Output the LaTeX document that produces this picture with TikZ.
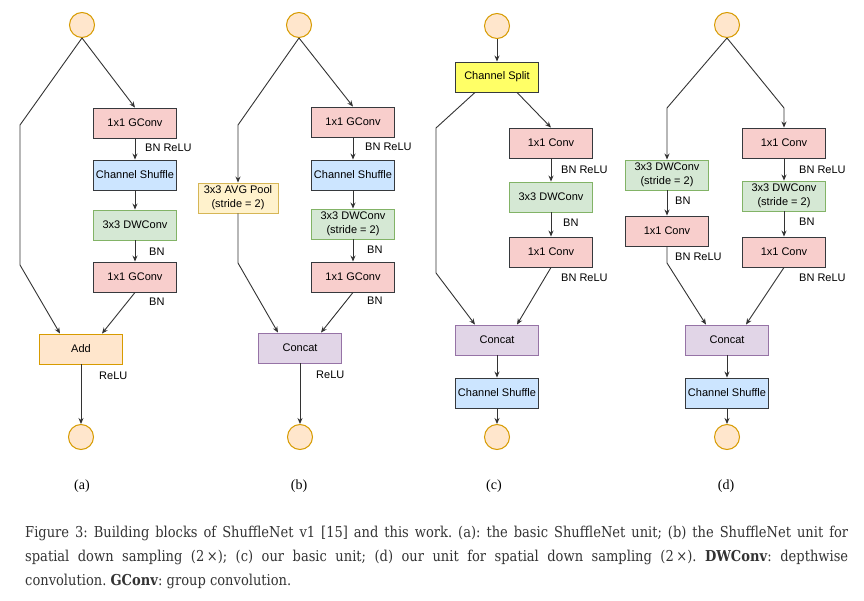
\documentclass[tikz,border=0pt]{standalone}
\usepackage{fontspec}
\usepackage{xcolor}
\usetikzlibrary{positioning,arrows.meta}
\newfontfamily\diafont{Liberation Sans}
\newfontfamily\capfont[FakeStretch=0.87]{DejaVu Serif}
\newfontfamily\tagfont{Liberation Serif}
\frenchspacing
\definecolor{iofill}{HTML}{FFE6CC}
\definecolor{iodraw}{HTML}{D79B00}
\definecolor{convfill}{HTML}{F8CECC}
\definecolor{shuffill}{HTML}{CCE5FF}
\definecolor{dwfill}{HTML}{D5E8D4}
\definecolor{dwdraw}{HTML}{82B366}
\definecolor{poolfill}{HTML}{FFF2CC}
\definecolor{pooldraw}{HTML}{D6B656}
\definecolor{catfill}{HTML}{E1D5E7}
\definecolor{catdraw}{HTML}{9673A6}
\definecolor{splitfill}{HTML}{FFFF66}
\definecolor{edgeclr}{HTML}{36393D}
\definecolor{lineclr}{HTML}{333333}
\definecolor{capclr}{HTML}{333333}
\tikzset{
  io/.style={circle,draw=iodraw,fill=iofill,line width=1pt,
             minimum size=25pt,inner sep=0pt},
  blk/.style={rectangle,draw=edgeclr,line width=0.9pt,
              minimum width=83pt,minimum height=30pt,inner sep=1pt,
              align=center,font=\diafont\fontsize{11}{14}\selectfont},
  conv/.style={blk,fill=convfill},
  shuf/.style={blk,fill=shuffill},
  dwc/.style={blk,fill=dwfill,draw=dwdraw},
  addb/.style={blk,fill=iofill,draw=iodraw},
  pool/.style={blk,fill=poolfill,draw=pooldraw,minimum width=80pt},
  cat/.style={blk,fill=catfill,draw=catdraw},
  split/.style={blk,fill=splitfill},
  note/.style={anchor=west,inner sep=0pt,font=\diafont\fontsize{11}{14}\selectfont},
  edge/.style={-{Stealth[length=6pt,width=5pt]},line width=0.9pt,draw=lineclr},
  tag/.style={inner sep=0pt,font=\tagfont\fontsize{14}{16}\selectfont},
  capline/.style={anchor=west,inner sep=0pt,text=capclr,
                  font=\capfont\fontsize{15}{16}\selectfont},
}
\begin{document}
\begin{tikzpicture}[x=1pt,y=-1pt]
\fill[white] (0,0) rectangle (864,601);
\useasboundingbox (0,0) rectangle (864,601);
\node[io]   (aIn)   at (82,25) {};
\node[conv] (aG1)   at (135,123) {1x1 GConv};
\node[shuf] (aShuf) at (135,175) {Channel Shuffle};
\node[dwc]  (aDw)   at (135,225) {3x3 DWConv};
\node[conv] (aG2)   at (135,277) {1x1 GConv};
\node[addb] (aAdd)  at (81,349) {Add};
\node[io]   (aOut)  at (81,437) {};
\node[note] (aL1) at (145,148) {BN ReLU};
\node[note] (aL2) at (149,252) {BN};
\node[note] (aL3) at (149,302) {BN};
\node[note] (aL4) at (99,376) {ReLU};
\draw[edge] (aIn.south) -- (20,125) -- (20,265) -- ([xshift=-21]aAdd.north);
\draw[edge] (aIn.south) -- (aG1.north);
\draw[edge] (aG1) -- (aShuf); \draw[edge] (aShuf) -- (aDw);
\draw[edge] (aDw) -- (aG2);
\draw[edge] (aG2.south) -- ([xshift=21]aAdd.north);
\draw[edge] (aAdd) -- (aOut);
\node[io]   (bIn)   at (299,25) {};
\node[pool] (bPool) at (238,198) {3x3 AVG Pool\\(stride = 2)};
\node[conv] (bG1)   at (353,122) {1x1 GConv};
\node[shuf] (bShuf) at (353,175) {Channel Shuffle};
\node[dwc]  (bDw)   at (353,224) {3x3 DWConv\\(stride = 2)};
\node[conv] (bG2)   at (353,277) {1x1 GConv};
\node[cat]  (bCat)  at (300,348) {Concat};
\node[io]   (bOut)  at (300,437) {};
\node[note] (bL1) at (365,147) {BN ReLU};
\node[note] (bL2) at (367,250) {BN};
\node[note] (bL3) at (367,301) {BN};
\node[note] (bL4) at (316,375) {ReLU};
\draw[edge] (bIn.south) -- (238,125) -- (bPool.north);
\draw[edge] (bIn.south) -- (bG1.north);
\draw[edge] (bPool.south) -- (238,263) -- ([xshift=-22]bCat.north);
\draw[edge] (bG1) -- (bShuf); \draw[edge] (bShuf) -- (bDw);
\draw[edge] (bDw) -- (bG2);
\draw[edge] (bG2.south) -- ([xshift=21]bCat.north);
\draw[edge] (bCat) -- (bOut);
\node[io]    (cIn)    at (497,26) {};
\node[split] (cSplit) at (497,77) {Channel Split};
\node[conv]  (cC1)    at (551,143) {1x1 Conv};
\node[dwc]   (cDw)    at (551,197) {3x3 DWConv};
\node[conv]  (cC2)    at (551,252) {1x1 Conv};
\node[cat]   (cCat)   at (497,340) {Concat};
\node[shuf]  (cShuf)  at (497,393) {Channel Shuffle};
\node[io]    (cOut)   at (497,437) {};
\node[note] (cL1) at (561,170) {BN ReLU};
\node[note] (cL2) at (563,223) {BN};
\node[note] (cL3) at (561,278) {BN ReLU};
\draw[edge] (cIn) -- (cSplit);
\draw[edge] ([xshift=-22]cSplit.south) -- (436,128) -- (436,273) -- ([xshift=-22]cCat.north);
\draw[edge] ([xshift=20]cSplit.south) -- (cC1.north);
\draw[edge] (cC1) -- (cDw); \draw[edge] (cDw) -- (cC2);
\draw[edge] (cC2.south) -- ([xshift=20]cCat.north);
\draw[edge] (cCat) -- (cShuf); \draw[edge] (cShuf) -- (cOut);
\node[io]   (dIn)   at (727,25) {};
\node[dwc]  (dDwL)  at (667,175) {3x3 DWConv\\(stride = 2)};
\node[conv] (dCL)   at (667,231) {1x1 Conv};
\node[conv] (dC1)   at (784,143) {1x1 Conv};
\node[dwc]  (dDw)   at (784,196) {3x3 DWConv\\(stride = 2)};
\node[conv] (dC2)   at (784,252) {1x1 Conv};
\node[cat]  (dCat)  at (727,340) {Concat};
\node[shuf] (dShuf) at (727,393) {Channel Shuffle};
\node[io]   (dOut)  at (727,437) {};
\node[note] (dL1) at (675,201) {BN};
\node[note] (dL2) at (675,257) {BN ReLU};
\node[note] (dL3) at (799,170) {BN ReLU};
\node[note] (dL4) at (799,222) {BN};
\node[note] (dL5) at (799,278) {BN ReLU};
\draw[edge] (dIn.south) -- (667,108) -- (dDwL.north);
\draw[edge] (dIn.south) -- (784,108) -- (dC1.north);
\draw[edge] (dDwL) -- (dCL);
\draw[edge] (dCL.south) -- (667,263) -- ([xshift=-21]dCat.north);
\draw[edge] (dC1) -- (dDw); \draw[edge] (dDw) -- (dC2);
\draw[edge] (dC2.south) -- ([xshift=19]dCat.north);
\draw[edge] (dCat) -- (dShuf); \draw[edge] (dShuf) -- (dOut);
\node[tag] (tagA) at (82,486) {(a)};
\node[tag] (tagB) at (299,486) {(b)};
\node[tag] (tagC) at (494,486) {(c)};
\node[tag] (tagD) at (726,486) {(d)};
\node[capline] (cap1) at (25,533) {\makebox[823pt][s]{Figure 3: Building blocks of ShuffleNet v1 [15] and this work. (a): the basic ShuffleNet unit; (b) the ShuffleNet unit for}};
\node[capline] (cap2) at (25,557) {\makebox[823pt][s]{spatial down sampling (2\,×); (c) our basic unit; (d) our unit for spatial down sampling (2\,×). \textbf{DWConv}: depthwise}};
\node[capline] (cap3) at (25,581) {convolution. \textbf{GConv}: group convolution.};
\end{tikzpicture}
\end{document}
